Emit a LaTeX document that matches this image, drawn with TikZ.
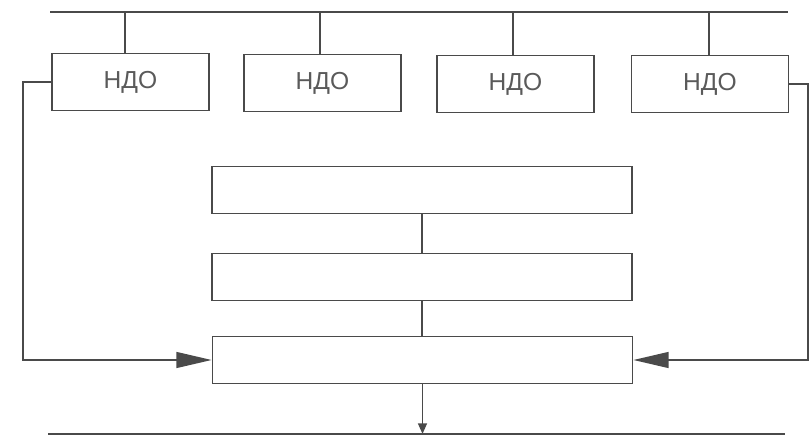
\documentclass[tikz,border=0pt]{standalone}
\usepackage{fontspec}
\setmainfont{Liberation Sans}
\usetikzlibrary{arrows.meta}
\definecolor{ink}{HTML}{4A4A4A}
\definecolor{txt}{HTML}{5A5A5A}
\begin{document}
\begin{tikzpicture}[x=0.02cm,y=-0.02cm,
  line width=1pt, draw=ink,
  ndo/.style={draw=ink, minimum width=157*0.02cm, minimum height=57*0.02cm,
    inner sep=0pt, text=txt, font=\fontsize{14}{16}\selectfont},
  blk/.style={draw=ink, minimum width=420*0.02cm, minimum height=47*0.02cm, inner sep=0pt},
  big/.style={-{Triangle[length=20pt,width=9pt]}},
  small/.style={-{Triangle[length=6pt,width=5pt]}}]
  \useasboundingbox (0,0) rectangle (810,438);
  % bus lines
  \coordinate (busL) at (50,12);
  \coordinate (busR) at (788,12);
  \draw[ink] (busL) -- (busR);
  \coordinate (outL) at (48,434);
  \coordinate (outR) at (785,434);
  \draw[ink] (outL) -- (outR);
  % НДО boxes with their taps on the bus
  \node[ndo] (n1) at (130.5,82) {НДО};
  \node[ndo] (n2) at (322.5,83) {НДО};
  \node[ndo] (n3) at (515.5,84) {НДО};
  \node[ndo] (n4) at (710,84) {НДО};
  \foreach \n/\xs in {n1/125,n2/320,n3/513,n4/709}
    \draw[ink] (\xs,0 |- \n.north) -- (\xs,12);
  % central chain
  \node[blk] (a) at (422,190) {};
  \node[blk] (b) at (422,277) {};
  \node[blk] (c) at (422.5,360) {};
  \draw[ink] (a.south) -- (b.north);
  \draw[ink] (b.south) -- (b.south |- c.north);
  \draw[ink, small] (c.south) -- (c.south |- outL);
  % feedback loops
  \coordinate (lc) at (23,360);
  \coordinate (rc) at (808,360);
  \draw[ink, big] (n1.west) -- (n1.west -| lc) -- (lc) -- (c.west);
  \draw[ink, big] (n4.east) -- (n4.east -| rc) -- (rc) -- (c.east);
\end{tikzpicture}
\end{document}
